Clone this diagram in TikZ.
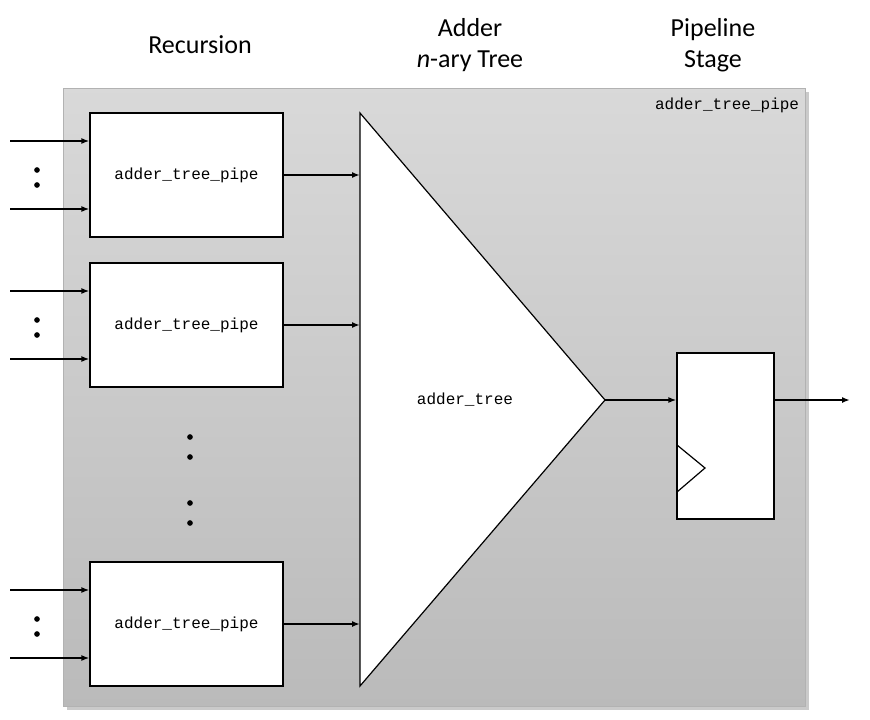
\documentclass[tikz,border=0pt]{standalone}
\usepackage{fontspec}
\setmainfont{Carlito}
\newfontfamily\codefont{Liberation Mono}
\usetikzlibrary{arrows.meta,shadows}
\begin{document}
\begin{tikzpicture}[x=1pt,y=-1pt,>={Latex[length=8pt,width=6pt]},line width=1.2pt,
  title/.style={font=\fontsize{26}{31}\selectfont,align=center},
  code/.style={font=\codefont\fontsize{16}{18}\selectfont},
  blk/.style={draw,fill=white,minimum width=193pt,minimum height=124pt,code},
  wire/.style={->,line width=1.8pt},
  dot/.style={circle,fill,inner sep=2pt}]
  \useasboundingbox (0,0) rectangle (870,720);
  % outer module
  \fill[black!35,opacity=0.6] (67,92) rectangle (809,710);
  \shade[top color=black!15,bottom color=black!27] (63,88) rectangle (805,706);
  \draw[black!30,line width=0.6pt] (63,88) rectangle (805,706);
  \node[code,anchor=north east] (outer) at (803,94) {adder\_tree\_pipe};
  % titles
  \node[title] at (200,45) {Recursion};
  \node[title] at (470,45) {Adder\\\textit{n}-ary Tree};
  \node[title] at (713,45) {Pipeline\\Stage};
  % recursive blocks
  \node[blk] (b1) at (186.5,175) {adder\_tree\_pipe};
  \node[blk] (b2) at (186.5,325) {adder\_tree\_pipe};
  \node[blk] (b3) at (186.5,624) {adder\_tree\_pipe};
  \foreach \b/\y in {b1/175,b2/325,b3/624} {
    \coordinate (\b i1) at (10,\y-34);
    \coordinate (\b i2) at (10,\y+34);
    \draw[wire] (\b i1) -- (\b.west |- \b i1);
    \draw[wire] (\b i2) -- (\b.west |- \b i2);
    \node[dot] at (37,\y-5) {};
    \node[dot] at (37,\y+10) {};
  }
  \foreach \y in {437,457,503,523} \node[dot] at (190,\y) {};
  % adder tree
  \draw[fill=white] (360,113) coordinate (ta) -- (360,686) coordinate (tb) -- (605,400) coordinate (tout) -- cycle;
  \node[code] (tree) at (465,400) {adder\_tree};
  \foreach \b in {b1,b2,b3}
    \draw[wire] (\b.east) -- (\b.east -| ta);
  % register
  \node[draw,fill=white,minimum width=97pt,minimum height=166pt] (reg) at (725.5,436) {};
  \draw (677,445) -- (705,468) -- (677,492);
  \coordinate (out) at (850,400);
  \draw[wire] (tout) -- (reg.west |- tout);
  \draw[wire] (reg.east |- tout) -- (out);
\end{tikzpicture}
\end{document}
